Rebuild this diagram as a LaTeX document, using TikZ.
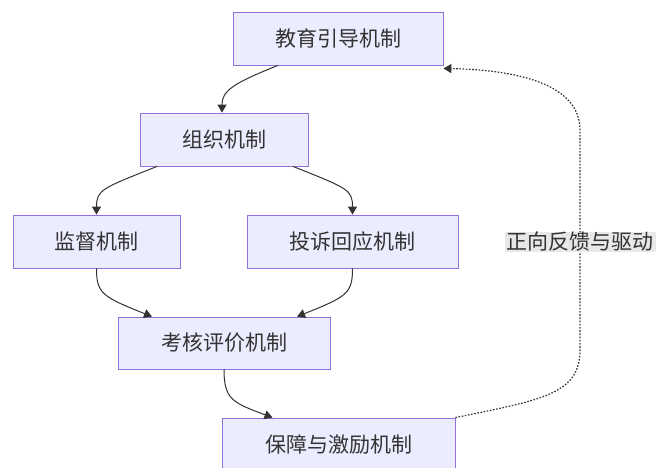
\documentclass[tikz,border=0pt]{standalone}
\usepackage{fontspec}
\setmainfont{Noto Sans CJK SC}
\usetikzlibrary{arrows.meta}
\definecolor{boxfill}{HTML}{ECECFF}
\definecolor{boxline}{HTML}{9370DB}
\definecolor{edgec}{HTML}{333333}
\definecolor{lblbg}{HTML}{E8E8E8}
\begin{document}
\begin{tikzpicture}[x=1pt,y=-1pt,
  mech/.style={draw=boxline,line width=0.8pt,fill=boxfill,text=edgec,
    font=\fontsize{21}{24}\selectfont,inner sep=0pt,minimum height=53pt},
  flow/.style={draw=edgec,line width=1pt,-{Triangle[length=8pt,width=9pt]}},
  fb/.style={draw=edgec,line width=1.2pt,dash pattern=on 1.6pt off 1.6pt,-{Triangle[length=8pt,width=9pt]}},
  lbl/.style={fill=lblbg,text=edgec,font=\fontsize{21}{24}\selectfont,inner xsep=2pt,inner ysep=0.5pt}]
\useasboundingbox (0,0) rectangle (656,467);
\fill[white] (0,0) rectangle (656,467);
\node[mech,minimum width=210pt] (edu) at (338,38.5) {教育引导机制};
\node[mech,minimum width=168pt] (org) at (224,139.5) {组织机制};
\node[mech,minimum width=167pt] (sup) at (96.5,241.5) {监督机制};
\node[mech,minimum width=211pt] (comp) at (352.5,241.5) {投诉回应机制};
\node[mech,minimum width=212pt,minimum height=52pt] (eval) at (224,343) {考核评价机制};
\node[mech,minimum width=233pt] (guar) at (338.5,444.5) {保障与激励机制};
\coordinate (fbr) at (580,242);
\draw[flow] ([xshift=-60pt]edu.south) .. controls +(-45,18) and +(0,-22) .. ([xshift=-1pt]org.north west -| 223,0);
\draw[flow] ([xshift=-67pt]org.south) .. controls +(-55,22) and +(0,-25) .. (sup.north);
\draw[flow] ([xshift=69pt]org.south) .. controls +(55,22) and +(0,-25) .. (comp.north);
\draw[flow] (sup.south) .. controls +(0,25) and +(-50,-20) .. ([xshift=-72pt]eval.north);
\draw[flow] (comp.south) .. controls +(0,25) and +(50,-20) .. ([xshift=73pt]eval.north);
\draw[flow] (eval.south) .. controls +(0,30) and +(-40,-15) .. ([xshift=-66pt]guar.north);
\draw[fb] (guar.north east) .. controls (540,400) and (580,395) .. (580,350)
  -- (580,130) .. controls (580,85) and (520,70) .. ([yshift=-3pt]edu.south east);
\node[lbl] (fbl) at (fbr) {正向反馈与驱动};
\end{tikzpicture}
\end{document}
